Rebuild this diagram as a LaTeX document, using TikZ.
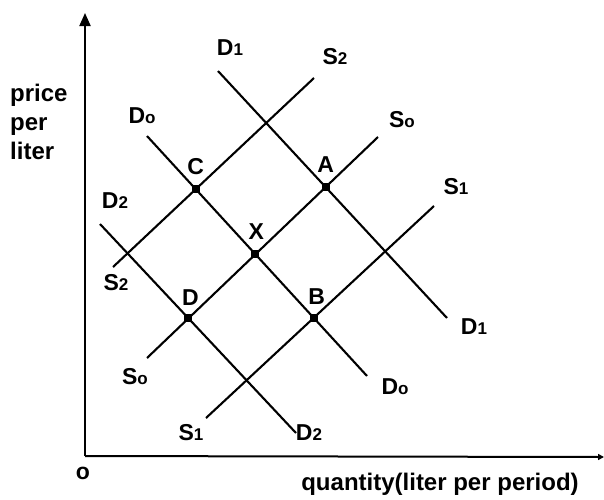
\documentclass[tikz,border=0pt]{standalone}
\usepackage{fontspec}
\setmainfont{Liberation Sans}
\usetikzlibrary{arrows.meta, positioning, intersections}

\newcommand{\lowsub}[1]{{\fontsize{17}{17}\selectfont #1}}

\begin{document}
\begin{tikzpicture}[x=1pt, y=-1pt,
        curve/.style={line width=2.1pt, black},
        axis/.style={line width=2pt, -{Triangle[length=13pt, width=11pt]}},
        lbl/.style={font=\fontsize{23}{23}\selectfont\bfseries, inner sep=1pt, text=black},
        dot/.style={rectangle, fill=black, inner sep=0pt, minimum size=8pt}
    ]
    \useasboundingbox (0,0) rectangle (604,499);

    % axes
    \coordinate (origin) at (85,456);
    \coordinate (ytop) at (85,13);
    \coordinate (xend) at (604,457);
    \draw [axis] (origin) -- (ytop);
    \draw [line width=2pt, -{Triangle[length=6pt, width=6pt]}] (origin) -- (xend);

    \node (ylabel) [lbl, anchor=north west, align=left, font=\fontsize{24}{29}\selectfont\bfseries] at (9,83) {price\\per\\liter};
    \node (olabel) [lbl] at (83,473) {o};
    \node (xlabel) [lbl, font=\fontsize{24}{24}\selectfont\bfseries] at (440,484) {quantity(liter per period)};

    % demand curves
    \coordinate (d1top) at (218,71);  \coordinate (d1bot) at (447,318);
    \coordinate (d0top) at (147,136); \coordinate (d0bot) at (367,376);
    \coordinate (d2top) at (100,224); \coordinate (d2bot) at (296,433);
    \draw [curve, name path=d1] (d1top) -- (d1bot);
    \draw [curve, name path=d0] (d0top) -- (d0bot);
    \draw [curve, name path=d2] (d2top) -- (d2bot);

    % supply curves
    \coordinate (s2bot) at (113,267); \coordinate (s2top) at (314,78);
    \coordinate (s0bot) at (147,358); \coordinate (s0top) at (378,137);
    \coordinate (s1bot) at (206,418); \coordinate (s1top) at (434,206);
    \draw [curve, name path=s2] (s2bot) -- (s2top);
    \draw [curve, name path=s0] (s0bot) -- (s0top);
    \draw [curve, name path=s1] (s1bot) -- (s1top);

    % curve labels
    \node (d1t) [lbl] at (230,48) {D\lowsub{1}};
    \node (d1b) [lbl] at (474,327) {D\lowsub{1}};
    \node (d0t) [lbl] at (142,116) {D\lowsub{o}};
    \node (d0b) [lbl] at (395,387) {D\lowsub{o}};
    \node (d2t) [lbl] at (115,201) {D\lowsub{2}};
    \node (d2b) [lbl] at (309,433) {D\lowsub{2}};
    \node (s2t) [lbl] at (335,57) {S\lowsub{2}};
    \node (s2b) [lbl] at (116,283) {S\lowsub{2}};
    \node (s0t) [lbl] at (402,120) {S\lowsub{o}};
    \node (s0b) [lbl] at (135,377) {S\lowsub{o}};
    \node (s1t) [lbl] at (456,187) {S\lowsub{1}};
    \node (s1b) [lbl] at (191,433) {S\lowsub{1}};

    % equilibrium points
    \path [name intersections={of=d0 and s2, by=ptc}];
    \path [name intersections={of=d1 and s0, by=pta}];
    \path [name intersections={of=d0 and s0, by=ptx}];
    \path [name intersections={of=d2 and s0, by=ptd}];
    \path [name intersections={of=d0 and s1, by=ptb}];
    \foreach \p in {ptc, pta, ptx, ptd, ptb}
        \node [dot] at (\p) {};

    \node (lc) [lbl, above=13pt of ptc] {C};
    \node (la) [lbl, above=13pt of pta] {A};
    \node (lx) [lbl, above=14pt of ptx, xshift=1pt] {X};
    \node (ld) [lbl, above=12pt of ptd, xshift=2pt] {D};
    \node (lb) [lbl, above=12pt of ptb, xshift=3pt] {B};
\end{tikzpicture}
\end{document}
